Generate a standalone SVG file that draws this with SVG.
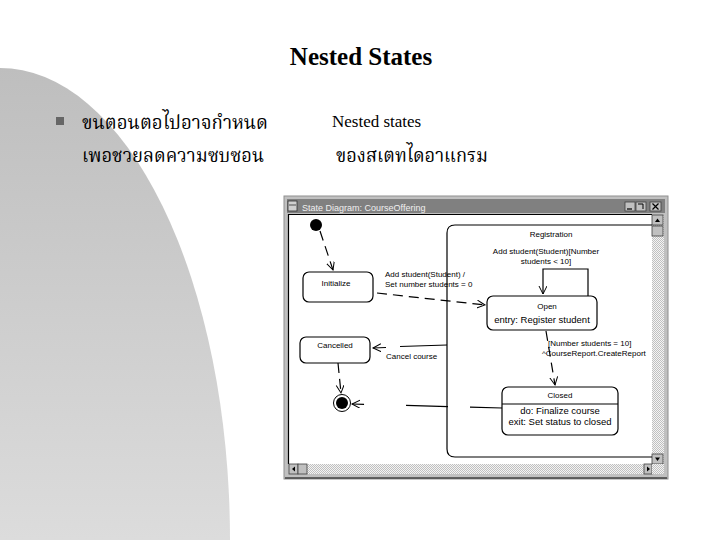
<svg xmlns="http://www.w3.org/2000/svg" width="720" height="540" viewBox="0 0 720 540">
<defs>
<linearGradient id="bg" x1="0" y1="0" x2="0" y2="1">
<stop offset="0" stop-color="#bebebe"/>
<stop offset="1" stop-color="#dcdcdc"/>
</linearGradient>
<pattern id="chk" width="2" height="2" patternUnits="userSpaceOnUse">
<rect width="2" height="2" fill="#f4f4f4"/>
<rect width="1" height="1" fill="#c0c0c0"/>
<rect x="1" y="1" width="1" height="1" fill="#c0c0c0"/>
</pattern>
<marker id="arr" markerWidth="10" markerHeight="10" refX="8" refY="4" orient="auto" markerUnits="userSpaceOnUse">
<path d="M0,0 L8,4 L0,8" fill="none" stroke="#000" stroke-width="1"/>
</marker>
</defs>
<style>
.title{font-family:"Liberation Serif",serif;font-weight:bold;font-size:25px;fill:#000}
.thai{font-family:"Noto Serif Thai","Noto Sans Thai Looped","Norasi","Kinnari","Loma","Garuda","Noto Sans Thai",serif;font-size:19px;fill:#000}
.en{font-family:"Liberation Serif",serif;font-size:17px;fill:#000}
.st{fill:#fff;stroke:#000;stroke-width:1.2}
.reg{fill:none;stroke:#000;stroke-width:1.2}
.lbl{font-family:"Liberation Sans",sans-serif;font-size:8px;fill:#000}
.lblb{font-family:"Liberation Sans",sans-serif;font-size:9.5px;fill:#000}
.tr{fill:none;stroke:#000;stroke-width:1.2}
.dash{stroke-dasharray:10,6}
.btn{fill:#c0c0c0;stroke:#404040;stroke-width:0.8}
</style>
<rect width="720" height="540" fill="#fff"/>
<path d="M0,540 L0,68 A230,472 0 0 1 230,540 Z" fill="url(#bg)"/>
<text class="title" x="361" y="65" text-anchor="middle">Nested States</text>
<rect x="56" y="117" width="8" height="8" fill="#666"/>
<text class="thai" x="82" y="129" textLength="186" lengthAdjust="spacingAndGlyphs">ขนตอนตอไปอาจกำหนด</text>
<text class="thai" x="82" y="162" textLength="182" lengthAdjust="spacingAndGlyphs">เพอชวยลดความซบซอน</text>
<text class="en" x="332" y="127">Nested states</text>
<text class="thai" x="336" y="162" textLength="152" lengthAdjust="spacingAndGlyphs">ของสเตทไดอาแกรม</text>
<g id="window">
<rect x="284" y="196" width="384" height="283" fill="#c0c0c0" stroke="#909090" stroke-width="1"/>
<line x1="285" y1="478" x2="667" y2="478" stroke="#404040" stroke-width="1.5"/>
<rect x="287" y="199" width="378" height="14" fill="#808080"/>
<rect x="288" y="201" width="9" height="10" fill="#d0d0d0" stroke="#303030" stroke-width="0.8"/>
<line x1="289" y1="205" x2="296" y2="205" stroke="#303030" stroke-width="0.8"/>
<text x="302" y="210.5" font-family="Liberation Sans,sans-serif" font-size="9" fill="#f0f0f0">State Diagram: CourseOffering</text>
<rect class="btn" x="625" y="202" width="10" height="9"/>
<line x1="627" y1="209" x2="632" y2="209" stroke="#000" stroke-width="1.2"/>
<rect class="btn" x="636" y="202" width="10" height="9"/>
<polyline points="638,204 643,204 643,209" fill="none" stroke="#000" stroke-width="1"/>
<rect class="btn" x="650" y="202" width="11" height="9"/>
<path d="M652.5,203.5 L658.5,209.5 M658.5,203.5 L652.5,209.5" stroke="#000" stroke-width="1.2"/>
<rect x="289" y="215" width="363" height="249" fill="#fff"/>
<path d="M288.5,464 L288.5,214.5 L652,214.5" fill="none" stroke="#000" stroke-width="1.2"/>
<rect x="652" y="215" width="12" height="249" fill="url(#chk)"/>
<rect class="btn" x="652" y="215" width="11" height="10"/>
<path d="M655,222 L657.5,218.5 L660,222 Z" fill="#000"/>
<rect class="btn" x="652" y="226" width="11" height="10"/>
<rect class="btn" x="652" y="454" width="11" height="10"/>
<path d="M655,457.5 L657.5,461 L660,457.5 Z" fill="#000"/>
<rect x="289" y="464" width="363" height="10" fill="url(#chk)"/>
<rect class="btn" x="289" y="464" width="9" height="10"/>
<path d="M295,466.5 L292,469 L295,471.5 Z" fill="#000"/>
<rect class="btn" x="298" y="464" width="9" height="10"/>
<rect class="btn" x="644" y="464" width="8" height="10"/>
<path d="M647,466.5 L650,469 L647,471.5 Z" fill="#000"/>
<rect x="652" y="464" width="12" height="10" fill="url(#chk)"/>
</g>
<g id="registration">
<path class="reg" d="M652,225 L455,225 Q447,225 447,233 L447,449 Q447,457 455,457 L652,457"/>
<text class="lbl" x="551" y="237" text-anchor="middle">Registration</text>
</g>
<g id="initial">
<circle cx="316" cy="225" r="6" fill="#000"/>
</g>
<g id="initialize">
<rect class="st" x="303" y="272" width="70" height="30" rx="6"/>
<text class="lbl" x="336" y="286" text-anchor="middle">Initialize</text>
</g>
<g id="cancelled">
<rect class="st" x="300" y="337" width="70" height="26" rx="6"/>
<text class="lbl" x="335" y="348" text-anchor="middle">Cancelled</text>
</g>
<g id="open">
<rect class="st" x="487" y="296" width="110" height="34" rx="6"/>
<text class="lbl" x="547" y="309" text-anchor="middle">Open</text>
<text class="lblb" x="542" y="323" text-anchor="middle">entry: Register student</text>
</g>
<g id="closed">
<rect class="st" x="502" y="387" width="116" height="48" rx="6"/>
<line x1="502" y1="404" x2="618" y2="404" stroke="#000" stroke-width="1.2"/>
<text class="lbl" x="560" y="398" text-anchor="middle">Closed</text>
<text class="lblb" x="560" y="414" text-anchor="middle">do: Finalize course</text>
<text class="lblb" x="560" y="425" text-anchor="middle">exit: Set status to closed</text>
</g>
<g id="final">
<circle cx="342" cy="403" r="8.5" fill="#fff" stroke="#000" stroke-width="1"/>
<circle cx="342" cy="403" r="6" fill="#000"/>
</g>
<g id="connectors">
<line class="tr dash" x1="320" y1="231" x2="333" y2="270" marker-end="url(#arr)"/>
<line class="tr dash" x1="377" y1="293" x2="485" y2="305" marker-end="url(#arr)"/>
<text class="lbl" x="385" y="277">Add student(Student) /</text>
<text class="lbl" x="385" y="287">Set number students = 0</text>
<polyline class="tr" points="588,296 588,269 543,269 543,294" marker-end="url(#arr)"/>
<text class="lbl" x="546" y="254" text-anchor="middle">Add student(Student)[Number</text>
<text class="lbl" x="546" y="264" text-anchor="middle">students &lt; 10]</text>
<line class="tr dash" x1="546" y1="331" x2="555" y2="385" marker-end="url(#arr)"/>
<text class="lbl" x="548" y="346">[Number students = 10]</text>
<text class="lbl" x="542" y="356">^CourseReport.CreateReport</text>
<line class="tr" x1="447" y1="345" x2="400" y2="346.5"/>
<line class="tr" x1="386" y1="347.5" x2="373" y2="348" marker-end="url(#arr)"/>
<text class="lbl" x="386" y="359">Cancel course</text>
<line class="tr" x1="502" y1="408" x2="352" y2="404" stroke-dasharray="32,22,42,42,20" marker-end="url(#arr)"/>
<line class="tr dash" x1="338" y1="363" x2="341" y2="393" marker-end="url(#arr)"/>
</g>
</svg>
